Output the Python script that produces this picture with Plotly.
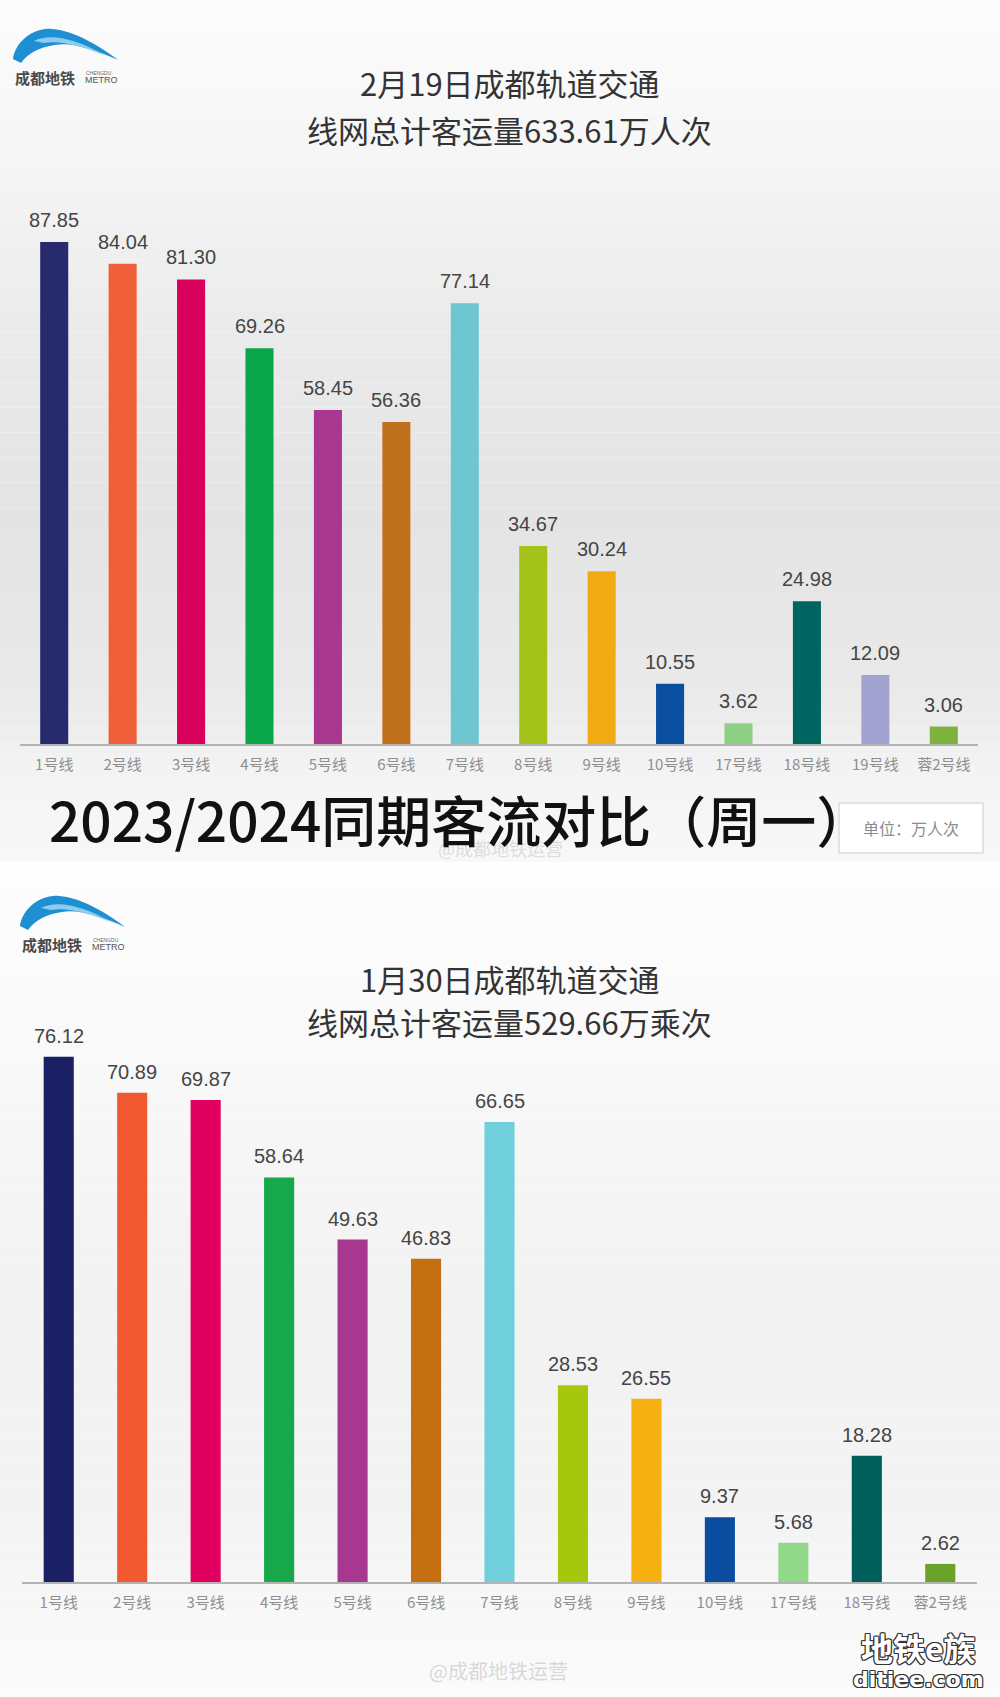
import plotly.graph_objects as go

W, H = 1000, 1697

# ---------------- data ----------------
lines_2024 = ["1号线", "2号线", "3号线", "4号线", "5号线", "6号线", "7号线",
              "8号线", "9号线", "10号线", "17号线", "18号线", "19号线", "蓉2号线"]
values_2024 = [87.85, 84.04, 81.30, 69.26, 58.45, 56.36, 77.14,
               34.67, 30.24, 10.55, 3.62, 24.98, 12.09, 3.06]
colors_2024 = ["#272a6c", "#ee5f3a", "#d9005b", "#0aa74a", "#a8388e", "#c0711e", "#6ec6d0",
               "#a4c31a", "#f0ab12", "#0a4fa0", "#8dcf84", "#006560", "#a3a3d1", "#7fb23c"]

lines_2023 = ["1号线", "2号线", "3号线", "4号线", "5号线", "6号线", "7号线",
              "8号线", "9号线", "10号线", "17号线", "18号线", "蓉2号线"]
values_2023 = [76.12, 70.89, 69.87, 58.64, 49.63, 46.83, 66.65,
               28.53, 26.55, 9.37, 5.68, 18.28, 2.62]
colors_2023 = ["#1b1f63", "#f15a31", "#df0060", "#16a84a", "#a8378f", "#c56f13", "#6fd0dc",
               "#a5c80d", "#f6b010", "#0a4da0", "#92d88a", "#005f5a", "#6aa32a"]

title_2024 = ["2月19日成都轨道交通", "线网总计客运量633.61万人次"]
title_2023 = ["1月30日成都轨道交通", "线网总计客运量529.66万乘次"]
headline = "2023/2024同期客流对比（周一）"
unit_text = "单位：万人次"

CJK = "Noto Sans CJK SC, Noto Sans, sans-serif"
NUM = "Liberation Sans, Arial, sans-serif"


def px(x):
    return x / W


def py(y):
    return 1 - y / H


def hexmix(c1, c2, t):
    a = [int(c1[i:i + 2], 16) for i in (1, 3, 5)]
    b = [int(c2[i:i + 2], 16) for i in (1, 3, 5)]
    return "#" + "".join(f"{round(a[k] + (b[k] - a[k]) * t):02x}" for k in range(3))


fig = go.Figure()

fig.add_trace(go.Bar(x=lines_2024, y=values_2024, marker=dict(color=colors_2024, line=dict(width=0)),
                     xaxis="x", yaxis="y", hoverinfo="x+y"))
fig.add_trace(go.Bar(x=lines_2023, y=values_2023, marker=dict(color=colors_2023, line=dict(width=0)),
                     xaxis="x2", yaxis="y2", hoverinfo="x+y"))

annotations = []
for name, v in zip(lines_2024, values_2024):
    annotations.append(dict(x=name, y=v, xref="x", yref="y", text=f"{v:.2f}", showarrow=False,
                            yanchor="bottom", yshift=9, font=dict(family=NUM, size=20, color="#454545")))
for name, v in zip(lines_2023, values_2023):
    annotations.append(dict(x=name, y=v, xref="x2", yref="y2", text=f"{v:.2f}", showarrow=False,
                            yanchor="bottom", yshift=8, font=dict(family=NUM, size=20, color="#454545")))


def txt(x, y, s, size, color="#333", family=CJK, xanchor="center", weight="normal", shadow=None):
    f = dict(family=family, size=size, color=color, weight=weight)
    if shadow:
        f["shadow"] = shadow
    annotations.append(dict(x=px(x), y=py(y), xref="paper", yref="paper", text=s, showarrow=False,
                            xanchor=xanchor, yanchor="middle", font=f))


# titles
txt(510, 83, title_2024[0], 31)
txt(509, 130, title_2024[1], 31)
txt(510, 978, title_2023[0], 31)
txt(509, 1021, title_2023[1], 31)

# faint weibo watermarks (behind the headline, as in the source)
txt(500, 848, "@成都地铁运营", 18, color="rgba(150,150,150,0.30)")
txt(498, 1670, "@成都地铁运营", 20, color="rgba(150,150,150,0.35)")

# headline
txt(47, 818, headline, 55, color="#111111", xanchor="left", weight=500)

# unit box text
txt(911, 828, unit_text, 16, color="#8c8c8c")

outline = ("1px 1px 0 #333, -1px -1px 0 #333, 1px -1px 0 #333, -1px 1px 0 #333, "
           "0 1px 0 #333, 0 -1px 0 #333, 1px 0 0 #333, -1px 0 0 #333")
txt(918, 1647, "地铁e族", 32, color="#ffffff", weight="bold", shadow=outline)
txt(918, 1679, "ditiee.com", 22, color="#ffffff", family="DejaVu Sans, sans-serif", weight="bold",
    shadow=outline)

shapes = []

# background gradient bands
top_stops = [(0, "#fcfcfc"), (150, "#f6f6f6"), (320, "#ebebeb"), (520, "#e4e4e4"), (700, "#eaeaea"),
             (780, "#f4f4f4"), (862, "#f8f8f8")]
bot_stops = [(866, "#fdfdfd"), (1050, "#f9f9f9"), (1300, "#f2f2f2"), (1500, "#f3f3f3"), (1697, "#fbfbfb")]


def bands(stops):
    for (y0, c0), (y1, c1) in zip(stops[:-1], stops[1:]):
        n = max(1, int((y1 - y0) / 12))
        for i in range(n):
            a = y0 + (y1 - y0) * i / n
            b = y0 + (y1 - y0) * (i + 1) / n
            shapes.append(dict(type="rect", xref="paper", yref="paper", x0=0, x1=1, y0=py(b), y1=py(a),
                               fillcolor=hexmix(c0, c1, (i + 0.5) / n), line=dict(width=0), layer="below"))


bands(top_stops)
bands(bot_stops)

# unit box
shapes.append(dict(type="rect", xref="paper", yref="paper", x0=px(839), x1=px(983), y0=py(853), y1=py(803),
                   fillcolor="#ffffff", line=dict(color="#dcdcdc", width=1.5), layer="below"))


# logos
def logo(ox, oy):
    outer = [("M", 13, 59), ("C", 15, 42, 34, 27, 52, 29), ("C", 76, 31, 101, 47, 118, 60),
             ("C", 95, 50, 72, 42, 55, 45), ("C", 40, 47, 28, 53, 21, 63)]
    inner = [("M", 34, 41), ("C", 50, 33, 75, 38, 106, 56), ("C", 82, 46, 60, 40, 44, 43)]

    def build(seg):
        s = ""
        for item in seg:
            cmd = item[0]
            nums = item[1:]
            coords = []
            for k in range(0, len(nums), 2):
                coords.append(f"{px(nums[k] + ox):.5f},{py(nums[k + 1] + oy):.5f}")
            s += cmd + " " + " ".join(coords) + " "
        return s + "Z"
    shapes.append(dict(type="path", xref="paper", yref="paper", path=build(outer),
                       fillcolor="#1f8fd3", line=dict(width=0)))
    shapes.append(dict(type="path", xref="paper", yref="paper", path=build(inner),
                       fillcolor="#8ccdee", line=dict(width=0)))
    txt(13 + ox, 77 + oy, "成都地铁", 15, color="#4a4a4a", xanchor="left", weight="bold")
    txt(84 + ox, 73 + oy, "CHENGDU", 5, color="#6a6a6a", xanchor="left", family=NUM)
    txt(83 + ox, 80 + oy, "METRO", 9, color="#555555", xanchor="left", family=NUM)


logo(0, 0)
logo(7, 867)

axis_common = dict(showline=True, linecolor="#b3b3b3", linewidth=1.5, ticks="", showgrid=False, zeroline=False,
                   tickfont=dict(family=CJK, size=15, color="#8f8f8f"), ticklabelstandoff=6, fixedrange=True)
yaxis_common = dict(visible=False, showgrid=False, zeroline=False, fixedrange=True)

fig.update_layout(
    width=W, height=H,
    margin=dict(l=0, r=0, t=0, b=0),
    paper_bgcolor="#ffffff",
    plot_bgcolor="rgba(0,0,0,0)",
    showlegend=False,
    bargap=0.59,
    xaxis=dict(domain=[px(20), px(978)], anchor="y", **axis_common),
    yaxis=dict(domain=[py(744), py(744 - 100 * 5.714)], range=[0, 100], anchor="x", **yaxis_common),
    xaxis2=dict(domain=[px(22), px(977)], anchor="y2", **axis_common),
    yaxis2=dict(domain=[py(1582), py(1582 - 80 * 6.90)], range=[0, 80], anchor="x2", **yaxis_common),
    annotations=annotations,
    shapes=shapes,
)

fig.write_html("out.html", config={"displayModeBar": False},
               post_script="document.body.style.margin='0';document.body.style.overflow='hidden';")
